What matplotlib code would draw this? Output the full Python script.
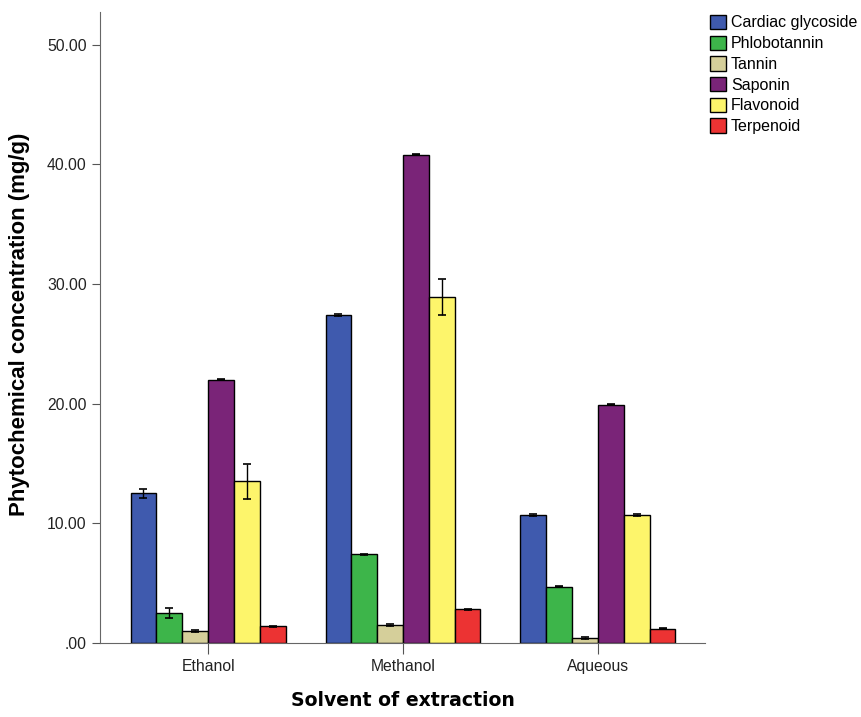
import matplotlib
matplotlib.use("Agg")
import matplotlib.pyplot as plt
import numpy as np

plt.rcParams['font.family'] = ['Liberation Sans', 'DejaVu Sans']

solvents = ["Ethanol", "Methanol", "Aqueous"]
compounds = ["Cardiac glycoside", "Phlobotannin", "Tannin", "Saponin", "Flavonoid", "Terpenoid"]
values = {
    "Cardiac glycoside": [12.5, 27.4, 10.7],
    "Phlobotannin": [2.5, 7.4, 4.7],
    "Tannin": [1.0, 1.5, 0.4],
    "Saponin": [22.0, 40.8, 19.9],
    "Flavonoid": [13.5, 28.9, 10.7],
    "Terpenoid": [1.4, 2.8, 1.2],
}
errors = {
    "Cardiac glycoside": [0.4, 0.05, 0.05],
    "Phlobotannin": [0.45, 0.05, 0.05],
    "Tannin": [0.05, 0.05, 0.1],
    "Saponin": [0.05, 0.05, 0.05],
    "Flavonoid": [1.45, 1.5, 0.05],
    "Terpenoid": [0.05, 0.05, 0.05],
}
colors = ["#3F5AAE", "#3DB54A", "#D5CF9A", "#7A2478", "#FDF56B", "#EC3333"]
yticks = [0, 10, 20, 30, 40, 50]
ytick_labels = [".00", "10.00", "20.00", "30.00", "40.00", "50.00"]

fig = plt.figure(figsize=(8.61, 7.17), dpi=100)
ax = fig.add_axes([0.116, 0.1032, 0.703, 0.8798])

x = np.arange(len(solvents))
w = 0.1325
n = len(compounds)
for i, (c, col) in enumerate(zip(compounds, colors)):
    pos = x + (i - (n - 1) / 2) * w
    ax.bar(pos, values[c], w, color=col, edgecolor="black", linewidth=1.0,
           label=c, zorder=2)
    ax.errorbar(pos, values[c], yerr=errors[c], fmt="none", ecolor="black",
                elinewidth=1.0, capsize=3, capthick=1.2, zorder=3)

ax.set_xlim(-0.555, 2.55)
ax.set_ylim(0, 52.7)
ax.set_xticks(x)
ax.set_xticklabels(solvents, fontsize=11.3, color="#222222")
ax.set_yticks(yticks)
ax.set_yticklabels(ytick_labels, fontsize=11.3, color="#222222")
ax.tick_params(axis="y", direction="out", length=6, color="#555555")
ax.tick_params(axis="x", direction="out", length=8, color="#555555")
for s in ["top", "right"]:
    ax.spines[s].set_visible(False)
for s in ["left", "bottom"]:
    ax.spines[s].set_color("#666666")

ylab = ax.set_ylabel("Phytochemical concentration (mg/g)", fontsize=16, fontweight="bold")
ax.yaxis.set_label_coords(-0.116, 0.505)
ax.set_xlabel("Solvent of extraction", fontsize=13.6, fontweight="bold", labelpad=12,
              family=["DejaVu Sans"])

leg = ax.legend(loc="upper left", bbox_to_anchor=(0.998, 1.006), frameon=False,
                fontsize=11.5, handlelength=1.0, handleheight=1.0,
                handletextpad=0.3, labelspacing=0.32, borderaxespad=0.0)

fig.savefig("out.png", dpi=100)
